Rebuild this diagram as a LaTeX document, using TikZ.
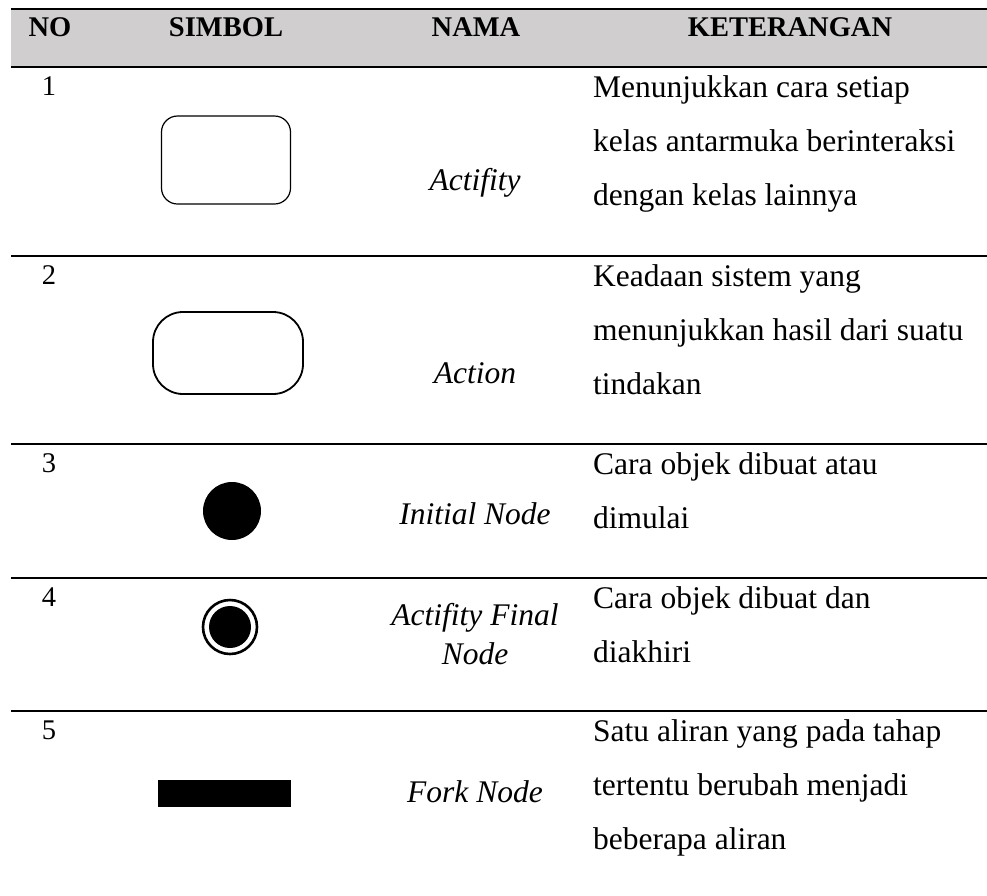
\documentclass[tikz,border=0pt]{standalone}
\usepackage{fontspec}
\setmainfont{Liberation Serif}
\usepackage{xcolor}
\usetikzlibrary{positioning}
\definecolor{headgray}{RGB}{208,206,206}

\tikzset{
	rule/.style={line width=2.4pt},
	headtxt/.style={anchor=base, inner sep=0pt, font=\fontsize{28.5}{34}\selectfont\bfseries},
	numtxt/.style={anchor=base, inner sep=0pt, font=\fontsize{28.5}{34}\selectfont},
	nametxt/.style={anchor=base, inner sep=0pt, font=\fontsize{31.5}{38}\selectfont\itshape},
	kettxt/.style={anchor=base west, inner sep=0pt, font=\fontsize{31.5}{38}\selectfont},
}

\begin{document}
\begin{tikzpicture}[x=1pt,y=-1pt]
	
	\useasboundingbox (0,0) rectangle (987,895);
	
	% header
	\fill [headgray] (11,9) rectangle (987,67);
	\foreach \a/\b in {11/87.7, 88.3/372.7, 373.3/580.7, 581.3/987}
		\draw [line width=2pt] (\a,9) -- (\b,9);
	\node [headtxt] (hno) at (50,36) {NO};
	\node [headtxt] (hsim) at (226,36) {SIMBOL};
	\node [headtxt] (hnama) at (476,36) {NAMA};
	\node [headtxt] (hket) at (790,36) {KETERANGAN};
	
	% row rules, small breaks at the column borders
	\foreach \y in {67,256,444,578,711}
		\foreach \a/\b in {11/87.7, 88.3/372.7, 373.3/580.7, 581.3/987}
			\draw [rule] (\a,\y) -- (\b,\y);
	
	% numbers
	\node [numtxt] (n1) at (49,95) {1};
	\node [numtxt] (n2) at (49,284) {2};
	\node [numtxt] (n3) at (49,472) {3};
	\node [numtxt] (n4) at (49,606) {4};
	\node [numtxt] (n5) at (49,739) {5};
	
	% symbols
	\node [draw, line width=1.2pt, rounded corners=16pt, minimum width=129pt, minimum height=88pt] (s1) at (226,160) {};
	\node [draw, line width=1.8pt, rounded corners=30pt, minimum width=150pt, minimum height=82pt] (s2) at (228,353) {};
	\node [circle, fill=black, minimum size=58pt, inner sep=0pt] (s3) at (232,511) {};
	\node [circle, draw, line width=2.6pt, minimum size=54pt, inner sep=0pt] (s4) at (230,627) {};
	\node [circle, fill=black, minimum size=42pt, inner sep=0pt] (s4i) at (s4) {};
	\node [fill=black, minimum width=133pt, minimum height=27pt, inner sep=0pt] (s5) at (224.5,793.5) {};
	
	% names
	\node [nametxt] (m1) at (475,190) {Actifity};
	\node [nametxt] (m2) at (475,383) {Action};
	\node [nametxt] (m3) at (475,524) {Initial Node};
	\node [nametxt] (m4a) at (475,625) {Actifity Final};
	\node [nametxt] (m4b) at (475,664) {Node};
	\node [nametxt] (m5) at (475,802) {Fork Node};
	
	% keterangan
	\foreach \t [count=\i] in {Menunjukkan cara setiap, kelas antarmuka berinteraksi, dengan kelas lainnya}
		\node [kettxt] (k1-\i) at (593,97+54*\i-54) {\t};
	\foreach \t [count=\i] in {Keadaan sistem yang, menunjukkan hasil dari suatu, tindakan}
		\node [kettxt] (k2-\i) at (593,286+54*\i-54) {\t};
	\foreach \t [count=\i] in {Cara objek dibuat atau, dimulai}
		\node [kettxt] (k3-\i) at (593,474+54*\i-54) {\t};
	\foreach \t [count=\i] in {Cara objek dibuat dan, diakhiri}
		\node [kettxt] (k4-\i) at (593,608+54*\i-54) {\t};
	\foreach \t [count=\i] in {Satu aliran yang pada tahap, tertentu berubah menjadi, beberapa aliran}
		\node [kettxt] (k5-\i) at (593,741+54*\i-54) {\t};
	
\end{tikzpicture}
\end{document}
